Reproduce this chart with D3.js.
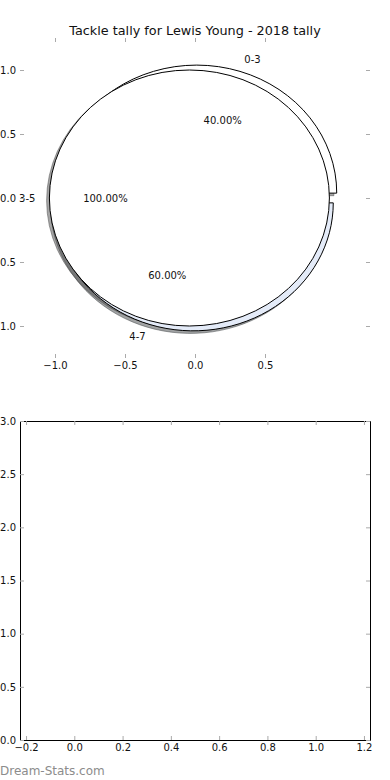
<!DOCTYPE html>
<html>
<head>
<meta charset="utf-8">
<script src="https://cdn.jsdelivr.net/npm/d3@7"></script>
<style>
  body { margin: 0; background: #fff; }
  text { font-family: "DejaVu Sans", sans-serif; }
</style>
</head>
<body>
<div id="chart"></div>
<script>
// pie slices, in drawing order (matplotlib normalize=False, fractions sum to 2)
const categories = ["0-3", "4-7", "3-5"];
const fractions = [0.4, 0.6, 1.0];
const wedgeColors = ["#ffffff", "#e4ebf8", "#ffffff"];
const explode = [0.04, 0.04, 0.04];

// ticks
const pieTicksX = [-1.0, -0.5, 0.0, 0.5];
const pieTicksY = [-1.0, -0.5, 0.0, 0.5, 1.0];
const emptyTicksX = [-0.2, 0.0, 0.2, 0.4, 0.6, 0.8, 1.0, 1.2];
const emptyTicksY = [0.0, 0.5, 1.0, 1.5, 2.0, 2.5, 3.0];

const width = 390, height = 780;
const fmt = d3.format(".1f");

const svg = d3.create("svg")
    .attr("width", width)
    .attr("height", height)
    .attr("viewBox", [0, 0, width, height]);

// title
svg.append("text")
    .attr("x", 195).attr("y", 34.5)
    .attr("text-anchor", "middle")
    .attr("font-size", 12.8)
    .attr("fill", "#111")
    .text("Tackle tally for Lewis Young - 2018 tally");

// ---------- top axes: the pie ----------
const x = d3.scaleLinear().domain([-1.25, 1.25]).range([20, 370]);
const y = d3.scaleLinear().domain([-1.25, 1.25]).range([358, 38]);
const sx = x(1) - x(0), sy = y(0) - y(1);

const ends = d3.cumsum(fractions);
const angle = d3.scaleLinear().domain([0, 1]).range([0, 2 * Math.PI]);
const wedges = fractions.map((f, i) => {
    const t1 = angle(ends[i] - f), t2 = angle(ends[i]);
    const tm = (t1 + t2) / 2;
    return {
        name: categories[i], frac: f, color: wedgeColors[i],
        t1, t2, tm,
        dx: explode[i] * Math.cos(tm), dy: explode[i] * Math.sin(tm),
        e: explode[i]
    };
});

const arc = d3.arc().innerRadius(0).outerRadius(1);
// with the y flip below, d3's angle a lands at math angle a - PI/2,
// so matplotlib's counter-clockwise-from-east angle t is a = t + PI/2
const wedgePath = d => arc({startAngle: d.t1 + Math.PI / 2, endAngle: d.t2 + Math.PI / 2});

const shadowColor = c => {
    const r = d3.rgb(c);
    return d3.rgb(r.r * 0.3, r.g * 0.3, r.b * 0.3).formatHex();
};

const pieG = svg.append("g");

// shadows under everything
pieG.append("g")
    .selectAll("path")
    .data(wedges)
    .join("path")
    .attr("transform", d => `translate(${x(d.dx - 0.02)},${y(d.dy - 0.02)}) scale(${sx},${-sy})`)
    .attr("d", wedgePath)
    .attr("fill", d => shadowColor(d.color))
    .attr("stroke", d => shadowColor(d.color))
    .attr("fill-opacity", 0.5)
    .attr("stroke-opacity", 0.5)
    .attr("stroke-width", 1)
    .attr("vector-effect", "non-scaling-stroke");

pieG.append("g")
    .selectAll("path")
    .data(wedges)
    .join("path")
    .attr("transform", d => `translate(${x(d.dx)},${y(d.dy)}) scale(${sx},${-sy})`)
    .attr("d", wedgePath)
    .attr("fill", d => d.color)
    .attr("stroke", "#000")
    .attr("stroke-width", 1)
    .attr("vector-effect", "non-scaling-stroke");

// slice labels
pieG.append("g")
    .selectAll("text")
    .data(wedges)
    .join("text")
    .attr("x", d => x((1.1 + d.e) * Math.cos(d.tm)))
    .attr("y", d => y((1.1 + d.e) * Math.sin(d.tm)))
    .attr("dy", "0.35em")
    .attr("text-anchor", d => Math.cos(d.tm) * 1.1 > 0 ? "start" : "end")
    .attr("font-size", 10)
    .attr("fill", "#111")
    .text(d => d.name);

// percentage labels
pieG.append("g")
    .selectAll("text")
    .data(wedges)
    .join("text")
    .attr("x", d => x((0.6 + d.e) * Math.cos(d.tm)))
    .attr("y", d => y((0.6 + d.e) * Math.sin(d.tm)))
    .attr("dy", "0.35em")
    .attr("text-anchor", "middle")
    .attr("font-size", 10)
    .attr("fill", "#111")
    .text(d => (d.frac * 100).toFixed(2) + "%");

// axes: ticks inward, frame only for the empty panel
function styleAxis(g, keepDomain) {
    if (!keepDomain) g.select(".domain").remove();
    else g.select(".domain").attr("stroke", "#000").attr("stroke-width", 1);
    g.selectAll(".tick line").attr("stroke", "#aaa").attr("stroke-width", 1);
    g.selectAll(".tick text").attr("font-size", 10).attr("fill", "#111")
        .attr("font-family", "DejaVu Sans, sans-serif");
}

svg.append("g").attr("transform", `translate(0,${y.range()[0]})`)
    .call(d3.axisBottom(x).tickValues(pieTicksX).tickFormat(fmt).tickSize(-4).tickPadding(4))
    .call(g => styleAxis(g, false));
svg.append("g").attr("transform", `translate(0,${y.range()[1]})`)
    .call(d3.axisTop(x).tickValues(pieTicksX).tickFormat("").tickSize(-4))
    .call(g => styleAxis(g, false));
svg.append("g").attr("transform", `translate(${x.range()[0]},0)`)
    .call(d3.axisLeft(y).tickValues(pieTicksY).tickFormat(fmt).tickSize(-4).tickPadding(4))
    .call(g => styleAxis(g, false));
svg.append("g").attr("transform", `translate(${x.range()[1]},0)`)
    .call(d3.axisRight(y).tickValues(pieTicksY).tickFormat("").tickSize(-4))
    .call(g => styleAxis(g, false));

// ---------- bottom axes: empty ----------
const x2 = d3.scaleLinear().domain([-0.225, 1.225]).range([20, 370]);
const y2 = d3.scaleLinear().domain([0, 3]).range([740, 421]);

svg.append("g").attr("transform", `translate(0,${y2.range()[0]})`)
    .call(d3.axisBottom(x2).tickValues(emptyTicksX).tickFormat(fmt).tickSize(-4).tickPadding(4).tickSizeOuter(0))
    .call(g => styleAxis(g, true));
svg.append("g").attr("transform", `translate(0,${y2.range()[1]})`)
    .call(d3.axisTop(x2).tickValues(emptyTicksX).tickFormat("").tickSize(-4).tickSizeOuter(0))
    .call(g => styleAxis(g, true));
svg.append("g").attr("transform", `translate(${x2.range()[0]},0)`)
    .call(d3.axisLeft(y2).tickValues(emptyTicksY).tickFormat(fmt).tickSize(-4).tickPadding(4).tickSizeOuter(0))
    .call(g => styleAxis(g, true));
svg.append("g").attr("transform", `translate(${x2.range()[1]},0)`)
    .call(d3.axisRight(y2).tickValues(emptyTicksY).tickFormat("").tickSize(-4).tickSizeOuter(0))
    .call(g => styleAxis(g, true));

// watermark
svg.append("text")
    .attr("x", 0).attr("y", 775)
    .attr("font-size", 12)
    .attr("fill", "#8c8c8c")
    .text("Dream-Stats.com");

document.getElementById("chart").appendChild(svg.node());
</script>
</body>
</html>
